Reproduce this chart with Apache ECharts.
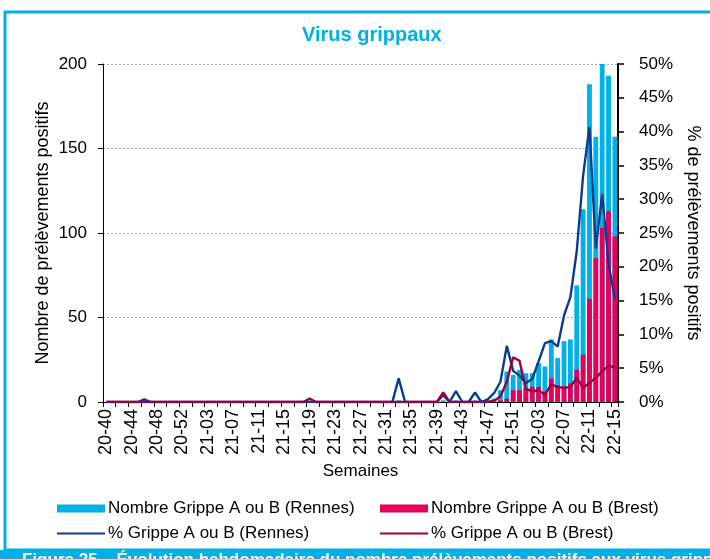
<!DOCTYPE html>
<html>
<head>
<meta charset="utf-8">
<script src="https://cdn.jsdelivr.net/npm/echarts@6/dist/echarts.min.js"></script>
<style>
html,body{margin:0;padding:0;background:#fff;}
#chart{width:710px;height:559px;}
</style>
</head>
<body>
<div id="chart"></div>
<script>
var weeks = [
 '20-40','20-41','20-42','20-43','20-44','20-45','20-46','20-47','20-48','20-49','20-50','20-51','20-52','20-53',
 '21-01','21-02','21-03','21-04','21-05','21-06','21-07','21-08','21-09','21-10','21-11','21-12','21-13','21-14','21-15','21-16','21-17','21-18','21-19','21-20','21-21','21-22','21-23','21-24','21-25','21-26','21-27','21-28','21-29','21-30','21-31','21-32','21-33','21-34','21-35','21-36','21-37','21-38','21-39','21-40','21-41','21-42','21-43','21-44','21-45','21-46','21-47','21-48','21-49','21-50','21-51','21-52',
 '22-01','22-02','22-03','22-04','22-05','22-06','22-07','22-08','22-09','22-10','22-11','22-12','22-13','22-14','22-15'
];
// Nombre Grippe A ou B (Rennes)
var countRennes = [
 0,0,0,0,0,0,1,0,0,0,0,0,0,0,
 0,0,0,0,0,0,0,0,0,0,0,0,0,0,0,0,0,0,0,0,0,0,0,0,0,0,0,0,0,0,0,0,1,0,0,0,0,0,0,1,0,1,0,0,1,0,1,2,7,18,16,19,
 17,17,23,21,37,26,36,37,69,114,188,157,200,193,157
];
// Nombre Grippe A ou B (Brest)
var countBrest = [
 0,0,0,0,0,0,0,0,0,0,0,0,0,0,
 0,0,0,0,0,0,0,0,0,0,0,0,0,0,0,0,0,0,0,0,0,0,0,0,0,0,0,0,0,0,0,0,0,0,0,0,0,0,0,0,0,0,0,0,0,0,0,0,1,2,7,7,
 8,9,9,6,14,10,9,11,19,28,61,85,103,113,98
];
// % Grippe A ou B (Rennes)
var pctRennes = [
 0,0,0,0,0,0,0.4,0,0,0,0,0,0,0,
 0,0,0,0,0,0,0,0,0,0,0,0,0,0,0,0,0,0,0,0,0,0,0,0,0,0,0,0,0,0,0,0,3.5,0,0,0,0,0,0,1.0,0,1.6,0,0,1.4,0,0.4,1.3,3.0,8.3,4.6,3.9,
 2.8,3.4,6.0,8.7,9.0,8.2,12.8,15.5,22.3,33.5,40.7,22.7,30.8,20.5,15.2
];
// % Grippe A ou B (Brest)
var pctBrest = [
 0,0,0,0,0,0,0,0,0,0,0,0,0,0,
 0,0,0,0,0,0,0,0,0,0,0,0,0,0,0,0,0,0,0.5,0,0,0,0,0,0,0,0,0,0,0,0,0,0,0,0,0,0,0,0,1.4,0,0,0,0,0,0,0,0.2,0.8,3.0,6.6,6.1,
 1.9,1.6,1.7,1.1,2.6,2.2,2.1,2.2,3.6,2.1,2.8,3.6,4.5,5.4,5.1
];
var leftTicks = [0, 50, 100, 150, 200];
var rightTicks = [0, 5, 10, 15, 20, 25, 30, 35, 40, 45, 50];

var names = ['Nombre Grippe A ou B (Rennes)','Nombre Grippe A ou B (Brest)','% Grippe A ou B (Rennes)','% Grippe A ou B (Brest)'];
var cBlue = '#00B0E6', cRed = '#E6005A', cLineBlue = '#0B3D8F', cLineRed = '#990040';
var FONT = '"Liberation Sans", Arial, sans-serif';

var chart = echarts.init(document.getElementById('chart'), null, {renderer:'canvas'});
var legendBase = {orient:'horizontal', itemGap:0, textStyle:{fontFamily:FONT, fontSize:17, color:'#000', padding:[0,0,0,-2]}, padding:0};
chart.setOption({
  animation:false,
  backgroundColor:'#fff',
  textStyle:{fontFamily:FONT},
  title:{text:'Virus grippaux', left:297, top:20, textStyle:{fontFamily:FONT, fontSize:20, fontWeight:'bold', color:cBlue}},
  grid:{left:103, right:78, top:64, bottom:157, containLabel:false},
  legend:[
    Object.assign({}, legendBase, {data:[{name:names[0], icon:'rect'}], left:57, top:500, itemWidth:48, itemHeight:8}),
    Object.assign({}, legendBase, {data:[{name:names[1], icon:'rect'}], left:380, top:500, itemWidth:48, itemHeight:8}),
    Object.assign({}, legendBase, {data:[{name:names[2], icon:'rect'}], left:57, top:525, itemWidth:48, itemHeight:2}),
    Object.assign({}, legendBase, {data:[{name:names[3], icon:'rect'}], left:380, top:525, itemWidth:48, itemHeight:2})
  ],
  xAxis:{
    type:'category', data:weeks, boundaryGap:true,
    name:'Semaines', nameLocation:'middle', nameGap:55,
    nameTextStyle:{fontFamily:FONT, fontSize:17, color:'#000'},
    axisLine:{lineStyle:{color:'#000', width:1}},
    axisTick:{show:true, interval:1, length:5, lineStyle:{color:'#000'}},
    axisLabel:{interval:3, rotate:90, fontFamily:FONT, fontSize:18, color:'#000', margin:7}
  },
  yAxis:[
    {type:'value', min:0, max:200, interval:50, position:'left',
     name:'Nombre de prélèvements positifs', nameLocation:'middle', nameGap:51, nameRotate:90, nameMoveOverlap:false,
     nameTextStyle:{fontFamily:FONT, fontSize:18, color:'#000'},
     axisLine:{show:true, lineStyle:{color:'#000', width:1}},
     axisTick:{show:true, length:5, lineStyle:{color:'#000'}},
     axisLabel:{fontFamily:FONT, fontSize:17, color:'#000', margin:16,
       formatter:function(v){ return leftTicks.indexOf(v) >= 0 ? String(v) : ''; }},
     splitLine:{show:true, lineStyle:{color:'#A6A6A6', type:[2,2], width:1}}
    },
    {type:'value', min:0, max:50, interval:5, position:'right',
     name:'% de prélèvements positifs', nameLocation:'middle', nameGap:55, nameRotate:-90,
     nameTextStyle:{fontFamily:FONT, fontSize:18, color:'#000'},
     axisLine:{show:true, lineStyle:{color:'#000', width:2}},
     axisTick:{show:true, length:6, lineStyle:{color:'#000', width:1.5}},
     axisLabel:{fontFamily:FONT, fontSize:17, color:'#000', margin:21,
       formatter:function(v){ return rightTicks.indexOf(v) >= 0 ? v + '%' : ''; }},
     splitLine:{show:false}
    }
  ],
  series:[
    {name:names[0], type:'bar', yAxisIndex:0, data:countRennes, barWidth:'76%', barGap:'-100%',
     itemStyle:{color:cBlue}},
    {name:names[1], type:'bar', yAxisIndex:0, data:countBrest, barWidth:'76%', barGap:'-100%',
     itemStyle:{color:cRed}},
    {name:names[2], type:'line', yAxisIndex:1, data:pctRennes, showSymbol:false, symbol:'none',
     lineStyle:{color:cLineBlue, width:2.4}, itemStyle:{color:cLineBlue}},
    {name:names[3], type:'line', yAxisIndex:1, data:pctBrest, showSymbol:false, symbol:'none',
     lineStyle:{color:cLineRed, width:2.4}, itemStyle:{color:cLineRed}}
  ],
  graphic:[
    {type:'rect', shape:{x:5, y:12, width:720, height:538}, style:{fill:null, stroke:cBlue, lineWidth:3}, silent:true, z:-1},
    {type:'rect', shape:{x:0, y:550, width:710, height:12}, style:{fill:cBlue}, silent:true},
    {type:'text', x:22, y:552, style:{text:'Figure 25 – Évolution hebdomadaire du nombre prélèvements positifs aux virus grippaux', fill:'#fff', font:'bold 17px "Liberation Sans", Arial, sans-serif', textVerticalAlign:'top'}, silent:true}
  ]
});
</script>
</body>
</html>
